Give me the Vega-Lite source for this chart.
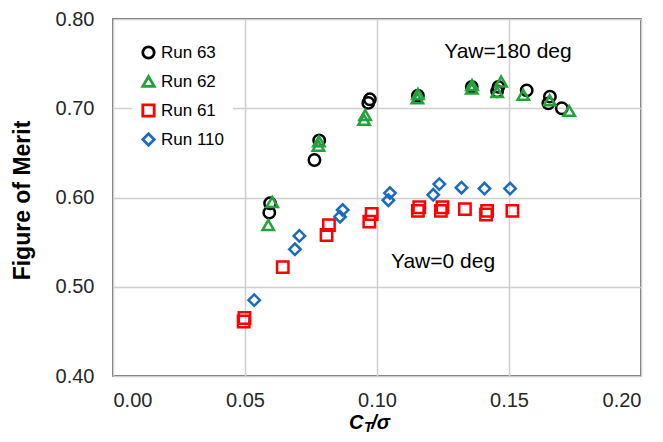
{
  "$schema": "https://vega.github.io/schema/vega-lite/v6.json",
  "autosize": {"type": "none"},
  "padding": {"left": 113, "top": 19, "right": 22, "bottom": 66},
  "width": 528,
  "height": 357,
  "background": "white",
  "config": {
    "font": "Liberation Sans",
    "view": {"stroke": "#404040", "strokeWidth": 1.5},
    "axis": {
      "grid": true,
      "gridColor": "#cfcfcf",
      "gridWidth": 1.5,
      "domain": false,
      "ticks": false,
      "labelFont": "Liberation Sans",
      "labelFontSize": 20,
      "labelColor": "#262626",
      "titleFont": "Liberation Sans",
      "titleColor": "#000000"
    }
  },
  "layer": [
    {
      "data": {
        "values": [
          {"run": "Run 63", "ct": 0.0592, "fom": 0.583},
          {"run": "Run 63", "ct": 0.0595, "fom": 0.5935},
          {"run": "Run 63", "ct": 0.0763, "fom": 0.642},
          {"run": "Run 63", "ct": 0.0781, "fom": 0.664},
          {"run": "Run 63", "ct": 0.0967, "fom": 0.706},
          {"run": "Run 63", "ct": 0.0973, "fom": 0.710},
          {"run": "Run 63", "ct": 0.1155, "fom": 0.714},
          {"run": "Run 63", "ct": 0.1359, "fom": 0.724},
          {"run": "Run 63", "ct": 0.1455, "fom": 0.719},
          {"run": "Run 63", "ct": 0.1460, "fom": 0.724},
          {"run": "Run 63", "ct": 0.1567, "fom": 0.720},
          {"run": "Run 63", "ct": 0.1649, "fom": 0.7055},
          {"run": "Run 63", "ct": 0.1655, "fom": 0.713},
          {"run": "Run 63", "ct": 0.1700, "fom": 0.700},
          {"run": "Run 62", "ct": 0.0588, "fom": 0.569},
          {"run": "Run 62", "ct": 0.0603, "fom": 0.595},
          {"run": "Run 62", "ct": 0.0778, "fom": 0.658},
          {"run": "Run 62", "ct": 0.0780, "fom": 0.663},
          {"run": "Run 62", "ct": 0.0951, "fom": 0.687},
          {"run": "Run 62", "ct": 0.0955, "fom": 0.6925},
          {"run": "Run 62", "ct": 0.1153, "fom": 0.711},
          {"run": "Run 62", "ct": 0.1155, "fom": 0.716},
          {"run": "Run 62", "ct": 0.1359, "fom": 0.722},
          {"run": "Run 62", "ct": 0.1360, "fom": 0.726},
          {"run": "Run 62", "ct": 0.1455, "fom": 0.718},
          {"run": "Run 62", "ct": 0.1470, "fom": 0.730},
          {"run": "Run 62", "ct": 0.1554, "fom": 0.715},
          {"run": "Run 62", "ct": 0.1654, "fom": 0.709},
          {"run": "Run 62", "ct": 0.1728, "fom": 0.697},
          {"run": "Run 61", "ct": 0.0495, "fom": 0.461},
          {"run": "Run 61", "ct": 0.0498, "fom": 0.465},
          {"run": "Run 61", "ct": 0.0643, "fom": 0.522},
          {"run": "Run 61", "ct": 0.0809, "fom": 0.558},
          {"run": "Run 61", "ct": 0.0818, "fom": 0.569},
          {"run": "Run 61", "ct": 0.0971, "fom": 0.573},
          {"run": "Run 61", "ct": 0.0980, "fom": 0.5815},
          {"run": "Run 61", "ct": 0.1155, "fom": 0.585},
          {"run": "Run 61", "ct": 0.1160, "fom": 0.589},
          {"run": "Run 61", "ct": 0.1242, "fom": 0.585},
          {"run": "Run 61", "ct": 0.1248, "fom": 0.589},
          {"run": "Run 61", "ct": 0.1333, "fom": 0.587},
          {"run": "Run 61", "ct": 0.1413, "fom": 0.581},
          {"run": "Run 61", "ct": 0.1417, "fom": 0.585},
          {"run": "Run 61", "ct": 0.1513, "fom": 0.585},
          {"run": "Run 110", "ct": 0.0535, "fom": 0.485},
          {"run": "Run 110", "ct": 0.0689, "fom": 0.542},
          {"run": "Run 110", "ct": 0.0706, "fom": 0.557},
          {"run": "Run 110", "ct": 0.0860, "fom": 0.5785},
          {"run": "Run 110", "ct": 0.0870, "fom": 0.586},
          {"run": "Run 110", "ct": 0.1043, "fom": 0.597},
          {"run": "Run 110", "ct": 0.1049, "fom": 0.605},
          {"run": "Run 110", "ct": 0.1213, "fom": 0.603},
          {"run": "Run 110", "ct": 0.1236, "fom": 0.615},
          {"run": "Run 110", "ct": 0.1320, "fom": 0.611},
          {"run": "Run 110", "ct": 0.1407, "fom": 0.610},
          {"run": "Run 110", "ct": 0.1504, "fom": 0.610}
        ]
      },
      "mark": {"type": "point", "filled": false, "strokeWidth": 2.5, "size": 130, "opacity": 1},
      "encoding": {
        "x": {
          "field": "ct", "type": "quantitative",
          "scale": {"domain": [0, 0.2], "nice": false, "zero": false},
          "axis": {"values": [0, 0.05, 0.1, 0.15, 0.2], "format": ".2f", "labelPadding": 14, "title": null}
        },
        "y": {
          "field": "fom", "type": "quantitative",
          "scale": {"domain": [0.4, 0.8], "nice": false, "zero": false},
          "axis": {
            "values": [0.4, 0.5, 0.6, 0.7, 0.8], "format": ".2f", "labelPadding": 19,
            "title": "Figure of Merit", "titleFontSize": 23, "titleFontWeight": "bold",
            "titleAngle": -90, "titleX": -91, "titleY": 181, "titleAlign": "center", "titleBaseline": "middle"
          }
        },
        "color": {
          "field": "run", "type": "nominal",
          "scale": {"domain": ["Run 63", "Run 62", "Run 61", "Run 110"], "range": ["#000000", "#22a33a", "#ff0000", "#1a6abf"]},
          "legend": {
            "title": null, "orient": "none", "legendX": 19, "legendY": 17,
            "fillColor": "white", "padding": 8, "labelFontSize": 17, "labelColor": "#000000",
            "symbolSize": 130, "symbolStrokeWidth": 2.8, "rowPadding": 6, "labelOffset": 4
          }
        },
        "shape": {
          "field": "run", "type": "nominal",
          "scale": {"domain": ["Run 63", "Run 62", "Run 61", "Run 110"], "range": ["circle", "triangle-up", "square", "diamond"]}
        }
      }
    },
    {
      "data": {"values": [{"label": "Yaw=180 deg", "ct": 0.1496, "fom": 0.763}, {"label": "Yaw=0 deg", "ct": 0.125, "fom": 0.528}]},
      "mark": {"type": "text", "fontSize": 21, "font": "Liberation Sans", "color": "#000000", "align": "center", "baseline": "middle"},
      "encoding": {"x": {"field": "ct", "type": "quantitative"}, "y": {"field": "fom", "type": "quantitative"}, "text": {"field": "label"}}
    },
    {
      "data": {"values": [{"part": "C", "ct": 0.0894, "fom": 0.3473}, {"part": "/σ", "ct": 0.0978, "fom": 0.3473}]},
      "mark": {"type": "text", "fontSize": 20, "font": "Liberation Sans", "fontWeight": "bold", "fontStyle": "italic", "color": "#000000", "align": "left", "baseline": "middle"},
      "encoding": {"x": {"field": "ct", "type": "quantitative"}, "y": {"field": "fom", "type": "quantitative"}, "text": {"field": "part"}}
    },
    {
      "data": {"values": [{"part": "T", "ct": 0.0951, "fom": 0.3415}]},
      "mark": {"type": "text", "fontSize": 14, "font": "Liberation Sans", "fontWeight": "bold", "fontStyle": "italic", "color": "#000000", "align": "left", "baseline": "middle"},
      "encoding": {"x": {"field": "ct", "type": "quantitative"}, "y": {"field": "fom", "type": "quantitative"}, "text": {"field": "part"}}
    }
  ]
}
